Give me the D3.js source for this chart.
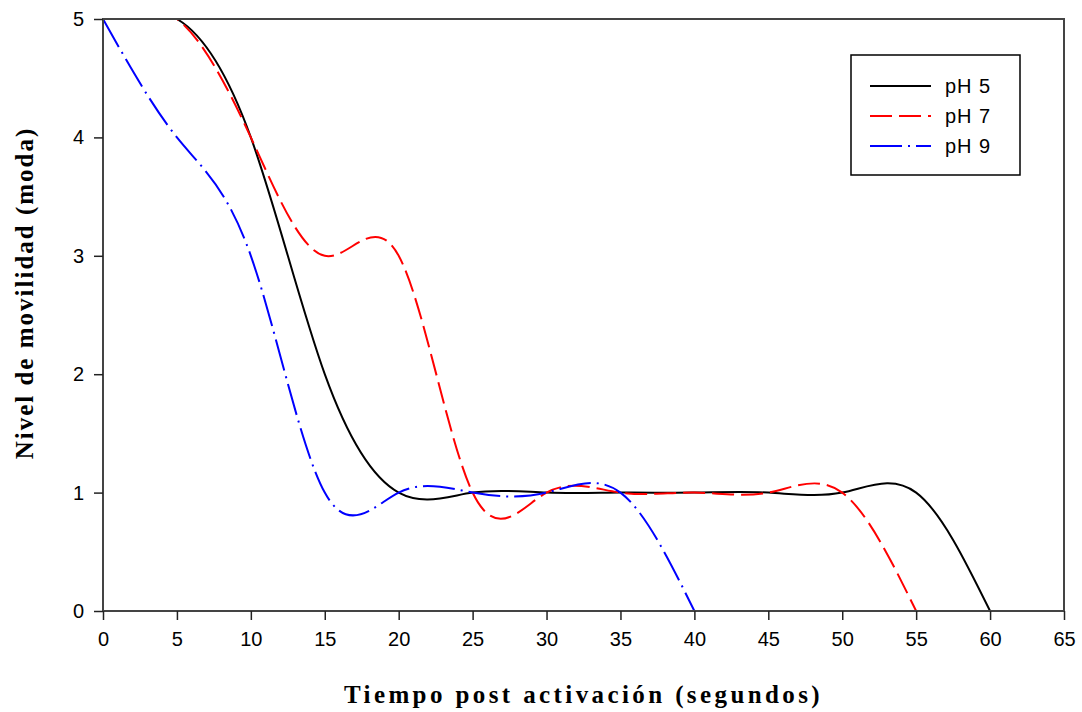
<!DOCTYPE html>
<meta charset="utf-8">
<head>
	<title>Nivel de movilidad</title>
	<script src="https://d3js.org/d3.v7.min.js"></script>
	<style>
		body { margin: 0; background: #fff; }
		.tick text { font-family: "Liberation Sans", Arial, sans-serif; font-size: 20px; fill: #000; }
		.title { font-family: "Liberation Serif", "Times New Roman", serif; font-weight: bold; font-size: 25px; }
		.legend text { font-family: "Liberation Sans", Arial, sans-serif; font-size: 20px; letter-spacing: 1px; }
	</style>
</head>
<body>
<script>
	// data
	const seconds = [0, 5, 10, 15, 20, 25, 30, 35, 40, 45, 50, 55, 60];
	const ph5 = [5, 5, 4, 2, 1, 1, 1, 1, 1, 1, 1, 1, 0];
	const ph7 = [5, 5, 4, 3, 3, 1, 1, 1, 1, 1, 1, 0];
	const ph9 = [5, 4, 3, 1, 1, 1, 1, 1, 0];
	const xTicks = d3.range(0, 70, 5);
	const yTicks = [0, 1, 2, 3, 4, 5];

	const series = [
		{name: 'pH 5', values: ph5, color: '#000', dash: null},
		{name: 'pH 7', values: ph7, color: '#ff0000', dash: '22,7'},
		{name: 'pH 9', values: ph9, color: '#0000ff', dash: '32,6,2,6'}
	];

	const width = 1082, height = 712;
	const margin = {top: 19, right: 18, bottom: 101, left: 103};

	const svg = d3.select('body').append('svg')
		.attr('width', width)
		.attr('height', height);

	const x = d3.scaleLinear().domain([0, 65]).range([margin.left, width - margin.right]);
	const y = d3.scaleLinear().domain([0, 5]).range([height - margin.bottom, margin.top]);

	svg.append('clipPath').attr('id', 'plot')
		.append('rect')
		.attr('x', x(0)).attr('y', y(5))
		.attr('width', x(65) - x(0)).attr('height', y(0) - y(5));

	const line = d3.line()
		.x((d, i) => x(seconds[i]))
		.y(d => y(d))
		.curve(d3.curveNatural);

	svg.append('g')
		.attr('clip-path', 'url(#plot)')
		.selectAll('path')
		.data(series)
		.enter().append('path')
			.attr('d', d => line(d.values))
			.attr('fill', 'none')
			.attr('stroke', d => d.color)
			.attr('stroke-width', 2)
			.attr('stroke-dasharray', d => d.dash);

	// frame
	svg.append('rect')
		.attr('x', x(0)).attr('y', y(5))
		.attr('width', x(65) - x(0)).attr('height', y(0) - y(5))
		.attr('fill', 'none')
		.attr('stroke', '#444')
		.attr('stroke-width', 2);

	const xAxis = svg.append('g')
		.attr('transform', `translate(0,${y(0)})`)
		.call(d3.axisBottom(x).tickValues(xTicks).tickSize(9).tickPadding(12));
	const yAxis = svg.append('g')
		.attr('transform', `translate(${x(0)},0)`)
		.call(d3.axisLeft(y).tickValues(yTicks).tickFormat(d3.format('d')).tickSize(9).tickPadding(10));
	[xAxis, yAxis].forEach(a => {
		a.select('.domain').remove();
		a.selectAll('.tick line').attr('stroke', '#222').attr('stroke-width', 1.5);
	});

	svg.append('text')
		.attr('class', 'title')
		.attr('x', (x(0) + x(65)) / 2)
		.attr('y', 703)
		.attr('text-anchor', 'middle')
		.style('letter-spacing', '3.4px')
		.text('Tiempo post activación (segundos)');

	svg.append('text')
		.attr('class', 'title')
		.attr('transform', `translate(33,293) rotate(-90)`)
		.attr('text-anchor', 'middle')
		.style('letter-spacing', '2px')
		.text('Nivel de movilidad (moda)');

	// legend
	const legend = svg.append('g').attr('class', 'legend');
	legend.append('rect')
		.attr('x', 851).attr('y', 55)
		.attr('width', 169).attr('height', 120)
		.attr('fill', '#fff')
		.attr('stroke', '#000')
		.attr('stroke-width', 1.5);
	const rows = legend.selectAll('g.row')
		.data(series)
		.enter().append('g')
			.attr('class', 'row')
			.attr('transform', (d, i) => `translate(0,${86 + i * 30})`);
	rows.append('line')
		.attr('x1', 870).attr('x2', 931)
		.attr('stroke', d => d.color)
		.attr('stroke-width', 2)
		.attr('stroke-dasharray', d => d.dash);
	rows.append('text')
		.attr('x', 945)
		.attr('y', 7)
		.text(d => d.name);
</script>
</body>
</html>
